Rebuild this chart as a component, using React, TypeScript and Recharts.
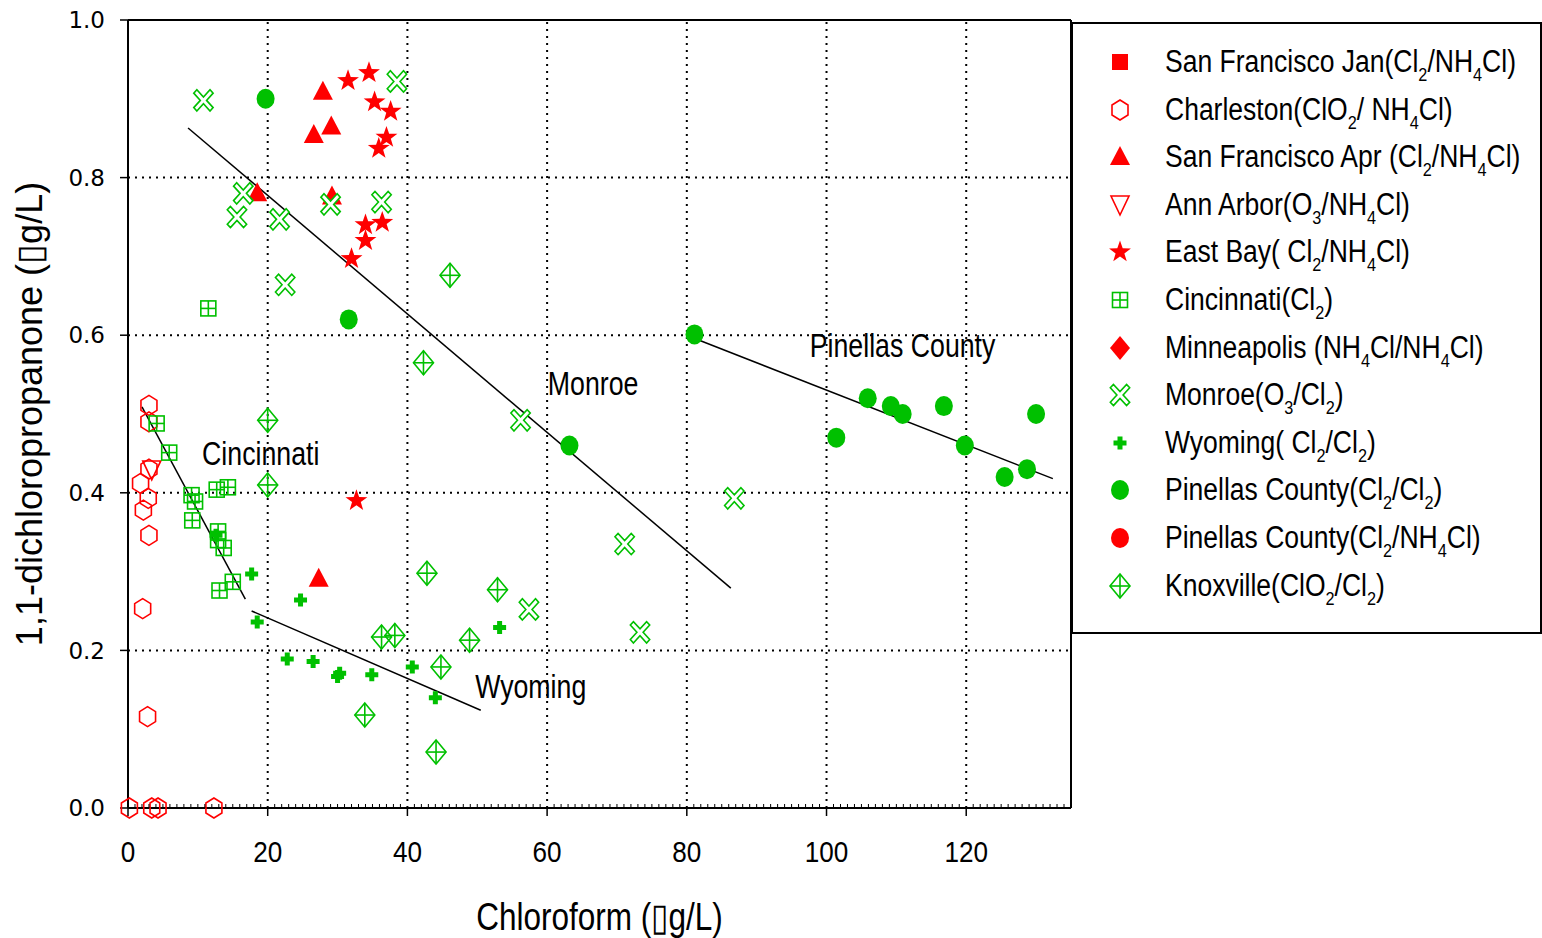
import React from 'react';
import {
  ScatterChart,
  Scatter,
  XAxis,
  YAxis,
  CartesianGrid,
  ReferenceLine,
  ReferenceDot,
  Label,
} from 'recharts';

const RED = '#ff0000';
const GREEN = '#00c000';
const SANS = '"Liberation Sans", Arial, sans-serif';

const xTicks = [0, 20, 40, 60, 80, 100, 120];
const yTicks = [0, 0.2, 0.4, 0.6, 0.8, 1.0];
const minorXTicks = Array.from({ length: 136 }, (_, i) => i);

// each point: [chloroform, 1,1-dichloropropanone]
const sfJan: number[][] = [];
const charleston = [
  [0.2, 0], [3.4, 0], [4.3, 0], [12.3, 0], [3.0, 0.511], [3.0, 0.49], [3.0, 0.43],
  [1.8, 0.412], [2.9, 0.393], [2.2, 0.378], [3.0, 0.346], [2.1, 0.253], [2.8, 0.116],
];
const sfApr = [[27.9, 0.909], [26.6, 0.854], [29.1, 0.865], [18.5, 0.78], [29.2, 0.776], [27.3, 0.291]];
const annArbor = [[3.4, 0.429]];
const eastBay = [
  [31.5, 0.923], [34.5, 0.933], [35.3, 0.896], [37.6, 0.884], [37.0, 0.851], [35.9, 0.837],
  [34.0, 0.74], [36.4, 0.743], [34.0, 0.72], [32.0, 0.697], [32.7, 0.39],
];
const cincinnati = [
  [4.1, 0.488], [5.9, 0.451], [9.1, 0.397], [9.6, 0.389], [9.2, 0.365], [12.7, 0.404], [14.3, 0.407],
  [12.9, 0.351], [12.9, 0.34], [13.7, 0.33], [13.1, 0.276], [15.0, 0.287], [11.5, 0.634],
];
const minneapolis: number[][] = [];
const monroe = [
  [10.8, 0.898], [38.5, 0.922], [16.5, 0.78], [15.6, 0.75], [21.7, 0.747], [29.0, 0.766], [36.3, 0.769],
  [22.5, 0.664], [56.2, 0.492], [86.8, 0.393], [71.1, 0.335], [57.4, 0.252], [73.3, 0.223],
];
const wyoming = [
  [17.7, 0.297], [24.7, 0.264], [18.5, 0.236], [22.8, 0.189], [26.5, 0.186], [30.3, 0.171],
  [30.0, 0.167], [34.9, 0.169], [40.7, 0.179], [44.0, 0.14], [53.2, 0.229], [12.6, 0.346],
];
const pinellasCl2 = [
  [19.7, 0.9], [31.6, 0.62], [63.2, 0.46], [81.1, 0.601], [101.4, 0.47], [105.9, 0.52], [109.2, 0.51],
  [110.9, 0.5], [116.8, 0.51], [119.8, 0.46], [125.5, 0.42], [128.7, 0.43], [130.0, 0.5],
];
const pinellasNH4Cl: number[][] = [];
const knoxville = [
  [46.1, 0.676], [42.3, 0.565], [42.8, 0.298], [52.9, 0.277], [48.9, 0.213], [36.3, 0.217],
  [38.2, 0.219], [44.8, 0.179], [33.9, 0.118], [44.1, 0.071], [20.0, 0.492], [20.0, 0.41],
];

// fitted trend lines, end points
const cincinnatiFit = [[2.0, 0.509], [16.8, 0.265]];
const monroeFit = [[8.6, 0.863], [86.3, 0.279]];
const wyomingFit = [[17.7, 0.25], [50.5, 0.124]];
const pinellasFit = [[80.5, 0.598], [132.4, 0.418]];

const siteNames = ['Cincinnati', 'Monroe', 'Pinellas County', 'Wyoming'];
const siteX = [10.6, 60.1, 97.6, 49.7];
const siteY = [0.435, 0.524, 0.572, 0.14];

type Kind =
  | 'square' | 'hexagon' | 'triangle' | 'triangleDown' | 'star' | 'squareCross'
  | 'diamond' | 'xOutline' | 'plus' | 'circle' | 'diamondCross';

const series: { name: string; kind: Kind; color: string; data: number[][] }[] = [
  { name: 'San Francisco Jan(Cl_2/NH_4Cl)', kind: 'square', color: RED, data: sfJan },
  { name: 'Charleston(ClO_2/ NH_4Cl)', kind: 'hexagon', color: RED, data: charleston },
  { name: 'San Francisco Apr (Cl_2/NH_4Cl)', kind: 'triangle', color: RED, data: sfApr },
  { name: 'Ann Arbor(O_3/NH_4Cl)', kind: 'triangleDown', color: RED, data: annArbor },
  { name: 'East Bay( Cl_2/NH_4Cl)', kind: 'star', color: RED, data: eastBay },
  { name: 'Cincinnati(Cl_2)', kind: 'squareCross', color: GREEN, data: cincinnati },
  { name: 'Minneapolis (NH_4Cl/NH_4Cl)', kind: 'diamond', color: RED, data: minneapolis },
  { name: 'Monroe(O_3/Cl_2)', kind: 'xOutline', color: GREEN, data: monroe },
  { name: 'Wyoming( Cl_2/Cl_2)', kind: 'plus', color: GREEN, data: wyoming },
  { name: 'Pinellas County(Cl_2/Cl_2)', kind: 'circle', color: GREEN, data: pinellasCl2 },
  { name: 'Pinellas County(Cl_2/NH_4Cl)', kind: 'circle', color: RED, data: pinellasNH4Cl },
  { name: 'Knoxville(ClO_2/Cl_2)', kind: 'diamondCross', color: GREEN, data: knoxville },
];

const fits = [cincinnatiFit, monroeFit, wyomingFit, pinellasFit];

function starPoints(r1: number, r2: number) {
  const pts: string[] = [];
  for (let i = 0; i < 10; i++) {
    const a = -Math.PI / 2 + (i * Math.PI) / 5;
    const r = i % 2 === 0 ? r1 : r2;
    pts.push(`${(r * Math.cos(a)).toFixed(2)},${(r * Math.sin(a)).toFixed(2)}`);
  }
  return pts.join(' ');
}

function xPoints(len: number, w: number) {
  const plus = [
    [w, len], [w, w], [len, w], [len, -w], [w, -w], [w, -len],
    [-w, -len], [-w, -w], [-len, -w], [-len, w], [-w, w], [-w, len],
  ];
  return plus
    .map(([x, y]) => `${((x - y) / Math.SQRT2).toFixed(2)},${(((x + y) / Math.SQRT2) * 1.1).toFixed(2)}`)
    .join(' ');
}

const STAR = starPoints(11.5, 4.6);
const XSHAPE = xPoints(11.5, 2.2);

function drawSymbol(kind: Kind, color: string, cx: number, cy: number) {
  const sw = 1.6;
  let body: React.ReactNode = null;
  switch (kind) {
    case 'square':
      body = <rect x={-8} y={-8} width={16} height={16} fill={color} />;
      break;
    case 'hexagon':
      body = <polygon points="0,-10 8,-5 8,5 0,10 -8,5 -8,-5" fill="none" stroke={color} strokeWidth={sw} />;
      break;
    case 'triangle':
      body = <polygon points="0,-11 10,8 -10,8" fill={color} />;
      break;
    case 'triangleDown':
      body = <polygon points="-9,-9 9,-9 0,10" fill="none" stroke={color} strokeWidth={sw} />;
      break;
    case 'star':
      body = <polygon points={STAR} fill={color} />;
      break;
    case 'squareCross':
      body = (
        <g fill="none" stroke={color} strokeWidth={sw}>
          <rect x={-7.5} y={-7.5} width={15} height={15} />
          <line x1={0} y1={-7.5} x2={0} y2={7.5} />
          <line x1={-7.5} y1={0} x2={7.5} y2={0} />
        </g>
      );
      break;
    case 'diamond':
      body = <polygon points="0,-12 10,0 0,12 -10,0" fill={color} />;
      break;
    case 'xOutline':
      body = <polygon points={XSHAPE} fill="#fff" stroke={color} strokeWidth={sw} />;
      break;
    case 'plus':
      body = <polygon points="-2.5,-6.5 2.5,-6.5 2.5,-2.5 6.5,-2.5 6.5,2.5 2.5,2.5 2.5,6.5 -2.5,6.5 -2.5,2.5 -6.5,2.5 -6.5,-2.5 -2.5,-2.5" fill={color} />;
      break;
    case 'circle':
      body = <ellipse cx={0} cy={0} rx={9} ry={10} fill={color} />;
      break;
    case 'diamondCross':
      body = (
        <g fill="none" stroke={color} strokeWidth={sw}>
          <polygon points="0,-12 10,0 0,12 -10,0" />
          <line x1={0} y1={-12} x2={0} y2={12} />
          <line x1={-10} y1={0} x2={10} y2={0} />
        </g>
      );
      break;
  }
  return <g transform={`translate(${cx},${cy})`}>{body}</g>;
}

function withSubs(text: string, subSize: number) {
  const parts = text.split(/_(\d)/);
  return parts.map((p, i) =>
    i % 2 === 1 ? (
      <span key={i} style={{ fontSize: subSize, position: 'relative', top: 9 }}>{p}</span>
    ) : (
      <span key={i}>{p}</span>
    ),
  );
}

// narrow lettering: regular face squeezed horizontally
function NarrowText({ x, y, size, sx, anchor, children }: any) {
  return (
    <text
      transform={`translate(${x},${y}) scale(${sx},1)`}
      textAnchor={anchor || 'start'}
      fontFamily={SANS}
      fontSize={size}
      fill="#000"
    >
      {children}
    </text>
  );
}

const majorX = new Set(xTicks);

// every unit gets a short inner tick, labelled majors get an outer tick and number
const XTick = (props: any) => {
  const { x, y, payload } = props;
  const v = payload.value;
  if (majorX.has(v)) {
    return (
      <g>
        <line x1={x} y1={y} x2={x} y2={y + 8} stroke="#000" strokeWidth={1.5} />
        <NarrowText x={x} y={y + 54} size={30} sx={0.87} anchor="middle">{v}</NarrowText>
      </g>
    );
  }
  return <line x1={x} y1={y} x2={x} y2={y - 4} stroke="#000" strokeWidth={1} />;
};

const XTitle = (props: any) => {
  const vb = props.viewBox;
  return (
    <NarrowText x={vb.x + vb.width / 2} y={vb.y + 122} size={38} sx={0.83} anchor="middle">
      Chloroform (▯g/L)
    </NarrowText>
  );
};

const YTitle = (props: any) => {
  const vb = props.viewBox;
  const cx = 42;
  const cy = vb.y + vb.height / 2;
  return (
    <text
      x={cx}
      y={cy}
      transform={`rotate(-90 ${cx} ${cy})`}
      textAnchor="middle"
      fontFamily={SANS}
      fontSize={36}
      fill="#000"
    >
      1,1-dichloropropanone (▯g/L)
    </text>
  );
};

function ChartLegend() {
  return (
    <div
      style={{
        position: 'absolute',
        left: 1071,
        top: 22,
        width: 471,
        height: 612,
        border: '2px solid #000',
        boxSizing: 'border-box',
        background: '#fff',
      }}
    >
      {series.map((s, i) => {
        const center = 38 + 47.6 * i;
        return (
          <div key={s.name} style={{ position: 'absolute', left: 0, top: center - 20, height: 40, width: '100%' }}>
            <svg width={40} height={40} style={{ position: 'absolute', left: 27, top: 0 }}>
              {drawSymbol(s.kind, s.color, 20, 20)}
            </svg>
            <div
              style={{
                position: 'absolute',
                left: 92,
                top: 0,
                lineHeight: '40px',
                fontSize: 31,
                fontFamily: SANS,
                whiteSpace: 'nowrap',
                color: '#000',
                transform: 'scaleX(0.855)',
                transformOrigin: 'left center',
              }}
            >
              {withSubs(s.name, 19)}
            </div>
          </div>
        );
      })}
    </div>
  );
}

export default function App() {
  return (
    <div style={{ position: 'fixed', left: 0, top: 0, width: 1542, height: 938, background: '#fff', overflow: 'hidden' }}>
      <ScatterChart width={1542} height={938} margin={{ top: 20, right: 471, bottom: 0, left: 0 }}>
        <CartesianGrid vertical={false} stroke="#000" strokeWidth={2} strokeDasharray="2 5" />
        <XAxis
          type="number"
          dataKey="x"
          domain={[0, 135]}
          ticks={minorXTicks}
          interval={0}
          height={130}
          tickSize={0}
          tickMargin={0}
          tickLine={false}
          axisLine={{ stroke: '#000', strokeWidth: 2 }}
          tick={XTick}
        >
          <Label content={XTitle} />
        </XAxis>
        <YAxis
          type="number"
          dataKey="y"
          domain={[0, 1]}
          ticks={yTicks}
          interval={0}
          width={128}
          tickSize={8}
          tickMargin={15}
          tickFormatter={(v: number) => v.toFixed(1)}
          axisLine={{ stroke: '#000', strokeWidth: 2 }}
          tickLine={{ stroke: '#000', strokeWidth: 1.5 }}
          tick={{ fill: '#000', fontSize: 23, fontFamily: '"DejaVu Sans", Verdana, sans-serif' }}
        >
          <Label content={YTitle} />
        </YAxis>
        {xTicks.map((v) => (
          <ReferenceLine key={`g${v}`} x={v} stroke="#000" strokeWidth={2} strokeDasharray="2 5" />
        ))}
        {series.map((s) => (
          <Scatter
            key={s.name}
            name={s.name}
            data={s.data.map(([x, y]) => ({ x, y }))}
            isAnimationActive={false}
            shape={(p: any) => drawSymbol(s.kind, s.color, p.cx, p.cy)}
          />
        ))}
        {fits.map((f, i) => (
          <ReferenceLine
            key={i}
            segment={[{ x: f[0][0], y: f[0][1] }, { x: f[1][0], y: f[1][1] }]}
            stroke="#000"
            strokeWidth={1.5}
          />
        ))}
        <ReferenceLine y={1} stroke="#000" strokeWidth={2} />
        <ReferenceLine x={135} stroke="#000" strokeWidth={2} />
        {siteNames.map((n, i) => (
          <ReferenceDot
            key={n}
            x={siteX[i]}
            y={siteY[i]}
            r={0}
            shape={(p: any) => (
              <NarrowText x={p.cx} y={p.cy} size={33} sx={0.81}>
                {n}
              </NarrowText>
            )}
          />
        ))}
      </ScatterChart>
      <ChartLegend />
    </div>
  );
}
